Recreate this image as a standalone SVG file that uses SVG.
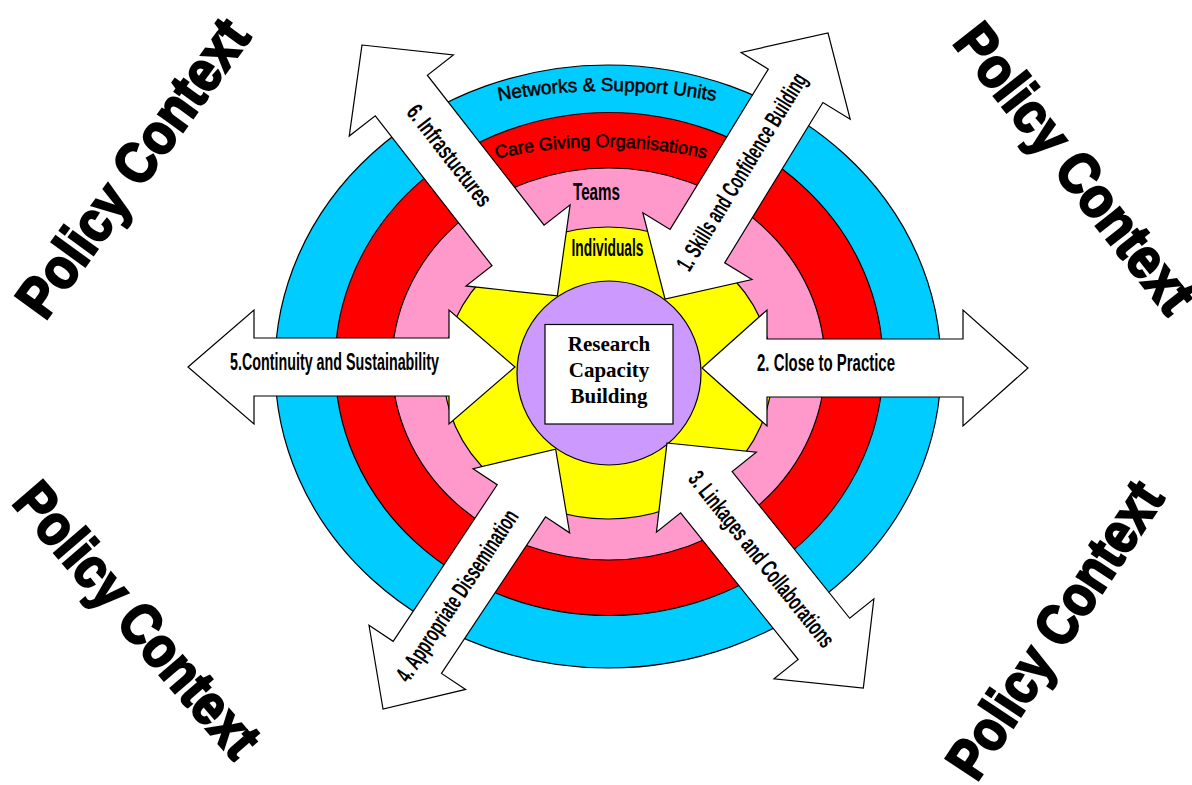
<svg xmlns="http://www.w3.org/2000/svg" width="1192" height="785" viewBox="0 0 1192 785">
<style>
.ln{stroke:#000;stroke-width:1.2}
.arrow{fill:#fff;stroke:#000;stroke-width:1.2;stroke-linejoin:miter}
.lbl{font-family:"Liberation Sans",Arial,sans-serif;font-weight:bold;font-size:24px;fill:#000}
.ring{font-family:"Liberation Sans",Arial,sans-serif;font-size:19px;fill:#000;stroke:#000;stroke-width:0.5}
.pc{font-family:"Liberation Sans",Arial,sans-serif;font-weight:bold;font-size:57px;fill:#000;stroke:#000;stroke-width:2.5;text-anchor:middle}
.ctr{font-family:"Liberation Serif","Times New Roman",serif;font-weight:bold;font-size:21px;text-anchor:middle;fill:#000}
</style>
<defs>
<path id="arcNet" d="M 357 145.6 A 600 600 0 0 1 857 145.6"/>
<path id="arcCare" d="M 401 190.7 A 480 480 0 0 1 801 190.7"/>
</defs>
<rect width="1192" height="785" fill="#fff"/>

<g id="policy-context">
<text class="pc" transform="translate(133,168) rotate(-54)" x="0" y="19" textLength="352" lengthAdjust="spacingAndGlyphs">Policy Context</text>
<text class="pc" transform="translate(1075,168.5) rotate(51.8)" x="0" y="19" textLength="350" lengthAdjust="spacingAndGlyphs">Policy Context</text>
<text class="pc" transform="translate(137,620) rotate(49.2)" x="0" y="19" textLength="342" lengthAdjust="spacingAndGlyphs">Policy Context</text>
<text class="pc" transform="translate(1055,630) rotate(-56.5)" x="0" y="19" textLength="342" lengthAdjust="spacingAndGlyphs">Policy Context</text>
</g>

<g id="ring-networks">
<ellipse class="ln" cx="608" cy="366.5" rx="333" ry="301.5" fill="#00CCFF"/>
</g>
<g id="ring-care">
<ellipse class="ln" cx="609" cy="364" rx="274" ry="251.5" fill="#FF0000"/>
</g>
<g id="ring-teams">
<ellipse class="ln" cx="608.5" cy="364" rx="216.5" ry="196" fill="#FF99CC"/>
</g>
<g id="ring-individuals">
<ellipse class="ln" cx="608" cy="373" rx="164" ry="146" fill="#FFFF00"/>
</g>
<g id="center">
<circle class="ln" cx="609" cy="373" r="92" fill="#CC99FF"/>
<rect class="ln" x="545" y="324.5" width="128" height="99.5" fill="#fff"/>
<text class="ctr" x="609" y="350.7">Research</text>
<text class="ctr" x="609" y="376.7">Capacity</text>
<text class="ctr" x="609" y="402.7">Building</text>
</g>

<g id="connectors">
<g id="arrow1" transform="translate(665,299) rotate(-58.5)">
<polygon class="arrow" points="0,0 62,-64 62,-32 250,-32 250,-64 312,0 250,64 250,32 62,32 62,64"/>
<text class="lbl" x="35" y="7" textLength="227" lengthAdjust="spacingAndGlyphs">1. Skills and Confidence Building</text>
</g>
<g id="arrow2" transform="translate(702,368)">
<polygon class="arrow" points="0,0 65,-58 65,-29 261,-29 261,-58 326,0 261,58 261,29 65,29 65,58"/>
<text class="lbl" x="55" y="2.5" textLength="138" lengthAdjust="spacingAndGlyphs">2. Close to Practice</text>
</g>
<g id="arrow3" transform="translate(667,443) rotate(51.3)">
<polygon class="arrow" points="0,0 63,-64 63,-33 251,-33 251,-64 314,0 251,64 251,33 63,33 63,64"/>
<text class="lbl" x="41" y="7" textLength="218" lengthAdjust="spacingAndGlyphs">3. Linkages and Collaborations</text>
</g>
<g id="arrow4" transform="translate(383,709) rotate(-56.4)">
<polygon class="arrow" points="0,0 62,-58 62,-29 250,-29 250,-58 312,0 250,58 250,29 62,29 62,58"/>
<text class="lbl" x="35" y="7" textLength="201" lengthAdjust="spacingAndGlyphs">4. Appropriate Dissemination</text>
</g>
<g id="arrow5" transform="translate(188,367)">
<polygon class="arrow" points="0,0 66,-57 66,-29 261,-29 261,-57 327,0 261,57 261,29 66,29 66,57"/>
<text class="lbl" x="42" y="3" textLength="209" lengthAdjust="spacingAndGlyphs">5.Continuity and Sustainability</text>
</g>
<g id="arrow6" transform="translate(362,45) rotate(52.1)">
<polygon class="arrow" points="0,0 64,-66 64,-33 254,-33 254,-66 318,0 254,66 254,33 64,33 64,66"/>
<text class="lbl" x="80" y="7" textLength="122" lengthAdjust="spacingAndGlyphs">6. Infrastuctures</text>
</g>
</g>

<g id="ring-labels">
<text class="ring"><textPath href="#arcNet" startOffset="50%" text-anchor="middle">Networks &amp; Support Units</textPath></text>
<text class="ring" style="font-size:18px"><textPath href="#arcCare" startOffset="50%" text-anchor="middle">Care Giving Organisations</textPath></text>
<text class="lbl" x="596.5" y="200" text-anchor="middle" textLength="47" lengthAdjust="spacingAndGlyphs">Teams</text>
<text class="lbl" x="607.5" y="256" text-anchor="middle" textLength="72" lengthAdjust="spacingAndGlyphs">Individuals</text>
</g>
</svg>
